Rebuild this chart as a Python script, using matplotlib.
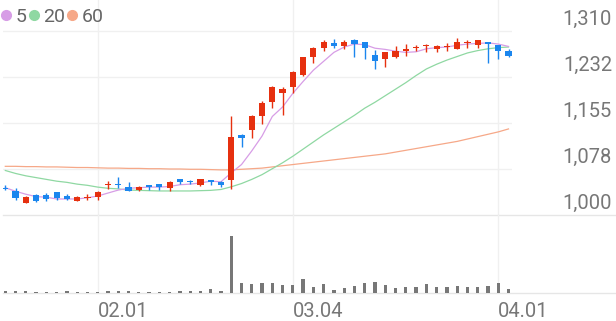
import numpy as np
import matplotlib.pyplot as plt
from matplotlib.lines import Line2D

plt.rcParams['font.family'] = ['Roboto', 'DejaVu Sans']

# 일봉 데이터 (2024.01.19 ~ 2024.04.02, 50 거래일)
opens = [1045, 1040, 1021, 1034, 1033, 1038, 1032, 1024, 1029, 1030,
         1050, 1053, 1048, 1042, 1050, 1052, 1045, 1060, 1058, 1050,
         1059, 1056, 1059, 1135, 1143, 1166, 1191, 1206, 1216, 1236,
         1266, 1281, 1289, 1285, 1295, 1291, 1270, 1262, 1267, 1277,
         1281, 1284, 1280, 1283, 1280, 1289, 1287, 1292, 1287, 1277]
highs = [1050, 1045, 1032, 1035, 1037, 1039, 1035, 1032, 1035, 1040,
         1058, 1064, 1055, 1049, 1050, 1053, 1057, 1060, 1059, 1061,
         1059, 1058, 1166, 1136, 1169, 1192, 1217, 1215, 1242, 1267,
         1283, 1295, 1296, 1295, 1296, 1292, 1278, 1275, 1284, 1288,
         1287, 1288, 1286, 1289, 1298, 1295, 1294, 1292, 1287, 1279]
lows = [1042, 1026, 1020, 1022, 1024, 1026, 1025, 1023, 1026, 1025,
        1043, 1045, 1041, 1040, 1042, 1042, 1040, 1052, 1053, 1049,
        1050, 1047, 1043, 1114, 1129, 1153, 1180, 1168, 1206, 1235,
        1256, 1277, 1281, 1279, 1266, 1262, 1246, 1250, 1264, 1268,
        1277, 1274, 1274, 1277, 1280, 1281, 1281, 1256, 1262, 1267]
closes = [1043, 1028, 1030, 1024, 1027, 1028, 1027, 1031, 1031, 1039,
          1051, 1050, 1041, 1047, 1047, 1048, 1056, 1056, 1056, 1060,
          1056, 1050, 1131, 1129, 1166, 1188, 1216, 1212, 1241, 1266,
          1282, 1291, 1285, 1291, 1288, 1281, 1260, 1274, 1277, 1279,
          1283, 1286, 1285, 1284, 1291, 1292, 1294, 1288, 1277, 1268]
volumes = [5, 7, 6, 2, 2, 2, 5, 2, 4, 4,
           7, 5, 5, 3, 2, 3, 4, 5, 5, 7,
           11, 5, 173, 30, 27, 31, 31, 24, 24, 44,
           19, 28, 10, 15, 21, 29, 34, 24, 15, 19,
           19, 28, 17, 19, 21, 18, 18, 22, 31, 12]

# 이동평균선
ma5 = [1046, 1040, 1035, 1031, 1030, 1027, 1027, 1027, 1029, 1032,
       1037, 1042, 1045, 1046, 1047, 1047, 1048, 1051, 1052, 1054,
       1057, 1056, 1071, 1085, 1108, 1133, 1166, 1182, 1205, 1225,
       1244, 1259, 1274, 1283, 1288, 1287, 1281, 1279, 1276, 1274,
       1275, 1280, 1282, 1283, 1286, 1288, 1289, 1290, 1288, 1284]
ma20 = [1075, 1070, 1066, 1063, 1060, 1057, 1055, 1052, 1050, 1047,
        1045, 1044, 1042, 1041.5, 1041, 1040.5, 1040.5, 1040.5, 1040.5, 1041,
        1041.5, 1043, 1047.5, 1053, 1060, 1068, 1078, 1088, 1099, 1111,
        1123, 1135, 1146, 1157, 1168, 1180, 1190, 1201, 1212, 1223,
        1235, 1246, 1254, 1261, 1267, 1273, 1277, 1280, 1282, 1283]
ma60 = [1082, 1082, 1081.5, 1081.5, 1081, 1081, 1080.5, 1080, 1080, 1079.5,
        1079, 1079, 1078.5, 1078.5, 1078, 1078, 1077.5, 1077.5, 1077, 1077,
        1076.5, 1076, 1076, 1077, 1078, 1079, 1081, 1083, 1085, 1087,
        1089, 1091, 1093, 1095, 1097, 1099, 1101, 1103, 1106, 1109,
        1112, 1115, 1118, 1121, 1124, 1128, 1132, 1136, 1140, 1145]

ma_labels = ['5', '20', '60']
ma_colors = ['#d79de6', '#8fd8a2', '#f6a888']

x_tick_pos = [9, 28, 48]
x_tick_labels = ['02.01', '03.04', '04.01']
y_ticks = [1000, 1077.5, 1155, 1232.5, 1310]
y_tick_labels = ['1,000', '1,078', '1,155', '1,232', '1,310']

up_color = '#e6300f'
down_color = '#1b86ee'
grid_color = '#f0f0f0'
text_color = '#777777'

W, H = 616, 321
fig = plt.figure(figsize=(W / 100, H / 100), dpi=100)
left_px, right_px = 3, 512
ax = fig.add_axes([left_px / W, (H - 215) / H, (right_px - left_px) / W, 215 / H])
axv = fig.add_axes([left_px / W, (H - 293) / H, (right_px - left_px) / W, 78 / H], sharex=ax)

x = np.arange(len(closes))
ax.set_xlim(-0.224, 49.34)
ax.set_ylim(1000, 1000 + 215 * 310 / 184)
axv.set_ylim(0, max(volumes) * 78 / 57)

for a in (ax, axv):
    a.axis('off')
    for t in x_tick_pos:
        a.axvline(t, color=grid_color, lw=1, zorder=0)

# 가로 격자
for v in y_ticks[1:]:
    ax.axhline(v, color=grid_color, lw=1, zorder=0)
full = (W - left_px) / (right_px - left_px)
ax.plot([0, full], [0, 0], transform=ax.transAxes, clip_on=False, color='#e6e6e6', lw=1, zorder=1)
axv.plot([0, full], [0, 0], transform=axv.transAxes, clip_on=False, color='#e6e6e6', lw=1, zorder=1)

# 이동평균선
for ma, c in zip([ma60, ma20, ma5], ma_colors[::-1]):
    ax.plot(x, ma, color=c, lw=0.9, zorder=2)

# 캔들
o = np.array(opens)
c = np.array(closes)
colors = np.where(c >= o, up_color, down_color)
body_bottom = np.minimum(o, c)
body_h = np.maximum(np.abs(c - o), 1.8)
ax.vlines(x, lows, highs, colors=colors, lw=1.0, zorder=3)
ax.bar(x, body_h, bottom=body_bottom, width=0.6, color=colors, zorder=4)

# 거래량
axv.bar(x, volumes, width=0.32, color='#777777', zorder=2)

# 축 라벨
for v, lab in zip(y_ticks, y_tick_labels):
    ax.annotate(lab, xy=(612 / W, v), xycoords=('figure fraction', 'data'),
                xytext=(0, 4.7), textcoords='offset points',
                ha='right', va='baseline', fontsize=14.5, color=text_color)
for t, lab in zip(x_tick_pos, x_tick_labels):
    axv.annotate(lab, xy=(t, 4 / H), xycoords=('data', 'figure fraction'),
                 ha='left', va='baseline', fontsize=14.5, color=text_color)

# 범례
handles = [Line2D([], [], marker='o', ls='', color=col, markersize=7) for col in ma_colors]
fig.legend(handles, ma_labels, loc='upper left', bbox_to_anchor=(2 / W, 1 - 8 / H),
           frameon=False, ncol=3, handlelength=0.45, handletextpad=0.25,
           columnspacing=0.15, borderpad=0, borderaxespad=0, fontsize=14,
           labelcolor='#666666')

fig.savefig('out.png', dpi=100, facecolor='white')
